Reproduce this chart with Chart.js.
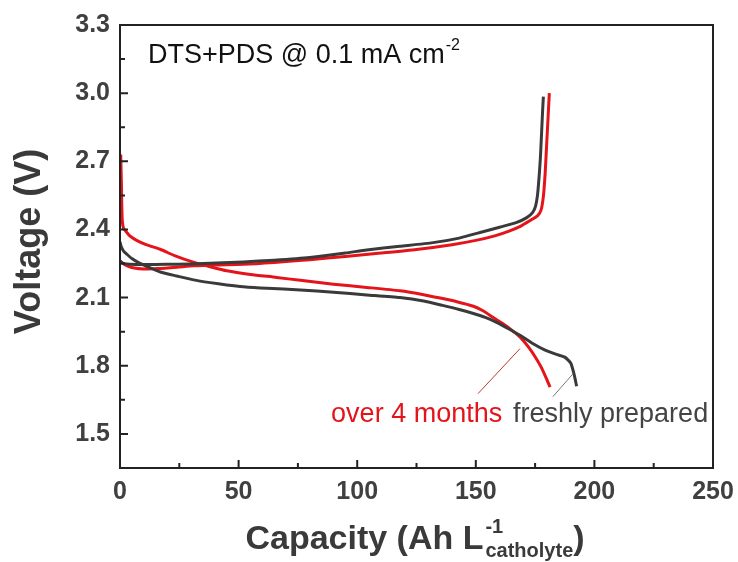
<!DOCTYPE html>
<html>
<head>
<meta charset="utf-8">
<script src="https://cdn.jsdelivr.net/npm/chart.js@4.4.1/dist/chart.umd.min.js"></script>
<style>
  html, body { margin: 0; padding: 0; background: #fff; }
  #wrap { width: 738px; height: 562px; }
</style>
</head>
<body>
<div id="wrap"><canvas id="chartVoltage"></canvas></div>
<script>
// ticks
const xTicks = [0, 50, 100, 150, 200, 250];
const xMinor = [25, 75, 125, 175, 225];
const yTicks = [1.5, 1.8, 2.1, 2.4, 2.7, 3.0, 3.3];
const yMinor = [1.65, 1.95, 2.25, 2.55, 2.85, 3.15];

// freshly prepared (black)
const freshDisCap = [0, 0.5, 1.5, 3, 5, 8, 12, 17, 24, 31, 38, 45, 52, 62, 76, 90, 104, 118, 128, 136, 143, 149, 154, 159, 164, 169, 174, 179, 184, 187.5, 190, 191.5, 192.5];
const freshDisV   = [2.345, 2.325, 2.305, 2.29, 2.272, 2.253, 2.234, 2.213, 2.195, 2.178, 2.166, 2.156, 2.148, 2.141, 2.134, 2.124, 2.112, 2.100, 2.085, 2.066, 2.048, 2.03, 2.013, 1.99, 1.962, 1.932, 1.898, 1.870, 1.850, 1.838, 1.812, 1.76, 1.71];
const freshChgCap = [0, 1, 3, 8, 15, 24, 35, 52, 65, 80, 95, 104, 118, 132, 143, 153, 160, 167, 171.5, 174, 175.2, 176, 176.6, 177.2, 177.8, 178.2, 178.5];
const freshChgV   = [2.26, 2.252, 2.248, 2.246, 2.246, 2.247, 2.25, 2.257, 2.265, 2.277, 2.296, 2.31, 2.326, 2.342, 2.362, 2.39, 2.41, 2.43, 2.452, 2.475, 2.503, 2.55, 2.62, 2.71, 2.84, 2.93, 2.985];

// over 4 months (red)
const agedDisCap = [0.3, 0.6, 0.9, 1.5, 3, 4.2, 7, 11, 16.9, 23, 30.9, 38, 45, 55, 66, 76, 90, 104, 118, 128, 135, 142, 149, 153, 157, 161, 165, 169, 172, 175, 177.5, 179.5, 181.3];
const agedDisV   = [2.73, 2.60, 2.45, 2.405, 2.385, 2.371, 2.352, 2.333, 2.313, 2.285, 2.256, 2.236, 2.218, 2.202, 2.189, 2.176, 2.159, 2.145, 2.130, 2.113, 2.098, 2.082, 2.062, 2.042, 2.015, 1.988, 1.958, 1.923, 1.885, 1.840, 1.795, 1.750, 1.706];
const agedChgCap = [0, 1, 3, 6, 10, 16, 24, 31, 40, 52, 65, 80, 95, 110, 125, 140, 150, 158, 164, 169, 173, 176, 177.5, 178.5, 179.2, 179.8, 180.4, 181];
const agedChgV   = [2.262, 2.252, 2.24, 2.23, 2.226, 2.228, 2.234, 2.24, 2.244, 2.247, 2.255, 2.267, 2.281, 2.296, 2.312, 2.333, 2.352, 2.372, 2.393, 2.415, 2.44, 2.46, 2.485, 2.547, 2.64, 2.76, 2.88, 3.0];

const BLACK = '#3a3a3a';
const RED = '#e5131a';

function pts(xs, ys) {
    return xs.map((x, i) => ({ x: x, y: ys[i] }));
}

function lineSet(label, xs, ys, color) {
    return {
        label: label,
        data: pts(xs, ys),
        showLine: true,
        borderColor: color,
        borderWidth: 3,
        pointRadius: 0,
        tension: 0.2,
        fill: false
    };
}

// frame, inward ticks, titles and annotations
const decorPlugin = {
    id: 'decor',
    afterDraw(chart) {
        const ctx = chart.ctx;
        const a = chart.chartArea;
        const sx = chart.scales.x, sy = chart.scales.y;
        ctx.save();
        ctx.strokeStyle = '#222';
        ctx.lineWidth = 2;
        ctx.strokeRect(a.left, a.top, a.right - a.left, a.bottom - a.top);

        ctx.beginPath();
        xTicks.forEach(v => { const p = sx.getPixelForValue(v); ctx.moveTo(p, a.bottom); ctx.lineTo(p, a.bottom - 8); });
        xMinor.forEach(v => { const p = sx.getPixelForValue(v); ctx.moveTo(p, a.bottom); ctx.lineTo(p, a.bottom - 5); });
        yTicks.forEach(v => { const p = sy.getPixelForValue(v); ctx.moveTo(a.left, p); ctx.lineTo(a.left + 8, p); });
        yMinor.forEach(v => { const p = sy.getPixelForValue(v); ctx.moveTo(a.left, p); ctx.lineTo(a.left + 5, p); });
        ctx.stroke();

        // leader lines
        ctx.lineWidth = 1;
        ctx.strokeStyle = '#c0392b';
        ctx.beginPath();
        ctx.moveTo(sx.getPixelForValue(150.9), sy.getPixelForValue(1.677));
        ctx.lineTo(sx.getPixelForValue(168.6), sy.getPixelForValue(1.875));
        ctx.stroke();
        ctx.strokeStyle = '#777';
        ctx.beginPath();
        ctx.moveTo(sx.getPixelForValue(182.5), sy.getPixelForValue(1.664));
        ctx.lineTo(sx.getPixelForValue(191), sy.getPixelForValue(1.765));
        ctx.stroke();

        // annotations
        ctx.textBaseline = 'alphabetic';
        ctx.textAlign = 'left';
        ctx.font = '27px "Liberation Sans", Arial, sans-serif';
        ctx.fillStyle = RED;
        ctx.fillText('over 4 months', sx.getPixelForValue(89), sy.getPixelForValue(1.554));
        ctx.fillStyle = '#444';
        ctx.fillText('freshly prepared', sx.getPixelForValue(165.7), sy.getPixelForValue(1.554));

        ctx.fillStyle = '#111';
        const dx = sx.getPixelForValue(11.8), dy = sy.getPixelForValue(3.133);
        const main = 'DTS+PDS @ 0.1 mA cm';
        ctx.fillText(main, dx, dy);
        const w = ctx.measureText(main).width;
        ctx.font = '16px "Liberation Sans", Arial, sans-serif';
        ctx.fillText('-2', dx + w + 1, dy - 13);

        // y title
        ctx.fillStyle = '#3a3a3a';
        ctx.font = 'bold 36px "Liberation Sans", Arial, sans-serif';
        ctx.save();
        ctx.translate(30, (a.top + a.bottom) / 2 - 5);
        ctx.rotate(-Math.PI / 2);
        ctx.textAlign = 'center';
        ctx.textBaseline = 'middle';
        ctx.fillText('Voltage (V)', 0, 0);
        ctx.restore();

        // x title with super/subscript
        const big = 'bold 34px "Liberation Sans", Arial, sans-serif';
        const small = 'bold 20px "Liberation Sans", Arial, sans-serif';
        ctx.font = big;
        const t1 = 'Capacity (Ah L';
        const w1 = ctx.measureText(t1).width;
        const w3 = ctx.measureText(')').width;
        ctx.font = small;
        const wSub = ctx.measureText('catholyte').width;
        const total = w1 + 2 + wSub + w3;
        const base = 549;
        let x0 = 415 - total / 2;
        ctx.textAlign = 'left';
        ctx.font = big;
        ctx.fillText(t1, x0, base);
        ctx.font = small;
        ctx.fillText('-1', x0 + w1 + 2, base - 16);
        ctx.fillText('catholyte', x0 + w1 + 2, base + 8);
        ctx.font = big;
        ctx.fillText(')', x0 + w1 + 2 + wSub, base);
        ctx.restore();
    }
};

const tickFont = { family: '"Liberation Sans", Arial, sans-serif', size: 25, weight: 'bold' };

new Chart(document.getElementById('chartVoltage'), {
    type: 'scatter',
    plugins: [decorPlugin],
    data: {
        datasets: [
            lineSet('freshly prepared discharge', freshDisCap, freshDisV, BLACK),
            lineSet('freshly prepared charge', freshChgCap, freshChgV, BLACK),
            lineSet('over 4 months discharge', agedDisCap, agedDisV, RED),
            lineSet('over 4 months charge', agedChgCap, agedChgV, RED)
        ]
    },
    options: {
        responsive: true,
        maintainAspectRatio: false,
        animation: false,
        layout: { padding: { top: 25, right: 25, left: 0, bottom: 0 } },
        plugins: {
            legend: { display: false },
            tooltip: { enabled: false }
        },
        scales: {
            x: {
                type: 'linear',
                min: 0,
                max: 250,
                afterBuildTicks: s => { s.ticks = xTicks.map(v => ({ value: v })); },
                afterFit: s => { s.height = 94; s.paddingLeft = 0; s.paddingRight = 0; },
                grid: { display: false, drawTicks: false },
                border: { display: false },
                ticks: { color: '#404040', font: tickFont, padding: 9, maxRotation: 0 }
            },
            y: {
                type: 'linear',
                min: 1.35,
                max: 3.3,
                afterBuildTicks: s => { s.ticks = yTicks.map(v => ({ value: v })); },
                afterFit: s => { s.width = 120; s.paddingTop = 0; s.paddingBottom = 0; },
                grid: { display: false, drawTicks: false },
                border: { display: false },
                ticks: { color: '#404040', font: tickFont, padding: 10, callback: v => v.toFixed(1) }
            }
        }
    }
});
</script>
</body>
</html>
